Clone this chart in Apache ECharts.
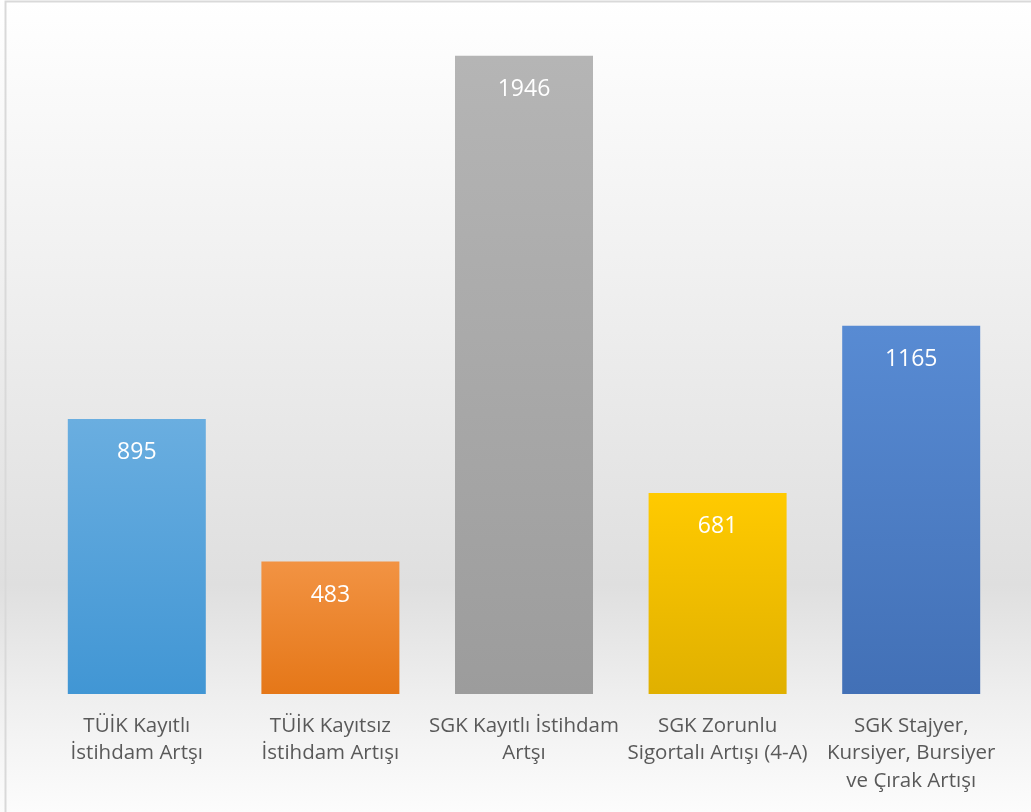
<!DOCTYPE html>
<html>
<head>
<meta charset="utf-8">
<script src="https://cdn.jsdelivr.net/npm/echarts@6/dist/echarts.min.js"></script>
<style>
  html, body { margin: 0; padding: 0; background: #fff; }
  #chart { width: 1031px; height: 812px; }
</style>
</head>
<body>
<div id="chart"></div>
<script>
// kategoriler ve değerler
var categories = [
    'TÜİK Kayıtlı\nİstihdam Artşı',
    'TÜİK Kayıtsız\nİstihdam Artışı',
    'SGK Kayıtlı İstihdam\nArtşı',
    'SGK Zorunlu\nSigortalı Artışı (4-A)',
    'SGK Stajyer,\nKursiyer, Bursiyer\nve Çırak Artışı'
];
var values = [895, 483, 1946, 681, 1165];
// üst ve alt renkler (gradyan)
var topColors = ['#6aaee0', '#f29343', '#b5b5b5', '#ffca00', '#588bd3'];
var bottomColors = ['#4196d4', '#e57718', '#9c9c9c', '#e0b000', '#4270b6'];

var chart = echarts.init(document.getElementById('chart'));

var barData = values.map(function (v, i) {
    return {
        value: v,
        itemStyle: {
            color: new echarts.graphic.LinearGradient(0, 0, 0, 1, [
                { offset: 0, color: topColors[i] },
                { offset: 1, color: bottomColors[i] }
            ])
        }
    };
});

var option = {
    backgroundColor: new echarts.graphic.LinearGradient(0, 0, 0, 1, [
        { offset: 0, color: '#ffffff' },
        { offset: 0.72, color: '#dfdfdf' },
        { offset: 0.86, color: '#efefef' },
        { offset: 1, color: '#fcfcfc' }
    ]),
    animation: false,
    graphic: [{
        type: 'rect',
        shape: { x: 5.5, y: 1.5, width: 1040, height: 830 },
        style: { fill: 'none', stroke: '#d9d9d9', lineWidth: 2 }
    }],
    grid: { left: 40, right: 23, top: 37, bottom: 118 },
    xAxis: {
        type: 'category',
        data: categories,
        axisLine: { show: false },
        axisTick: { show: false },
        axisLabel: {
            interval: 0,
            margin: 18,
            color: '#595959',
            fontFamily: 'Open Sans',
            fontSize: 20.5,
            lineHeight: 27.5
        }
    },
    yAxis: {
        type: 'value',
        min: 100,
        max: 2000,
        show: false,
        splitLine: { show: false }
    },
    series: [{
        type: 'bar',
        data: barData,
        barWidth: 138,
        label: {
            show: true,
            position: 'insideTop',
            distance: 22,
            color: '#ffffff',
            fontFamily: 'Open Sans',
            fontSize: 23
        }
    }]
};

chart.setOption(option);
</script>
</body>
</html>
